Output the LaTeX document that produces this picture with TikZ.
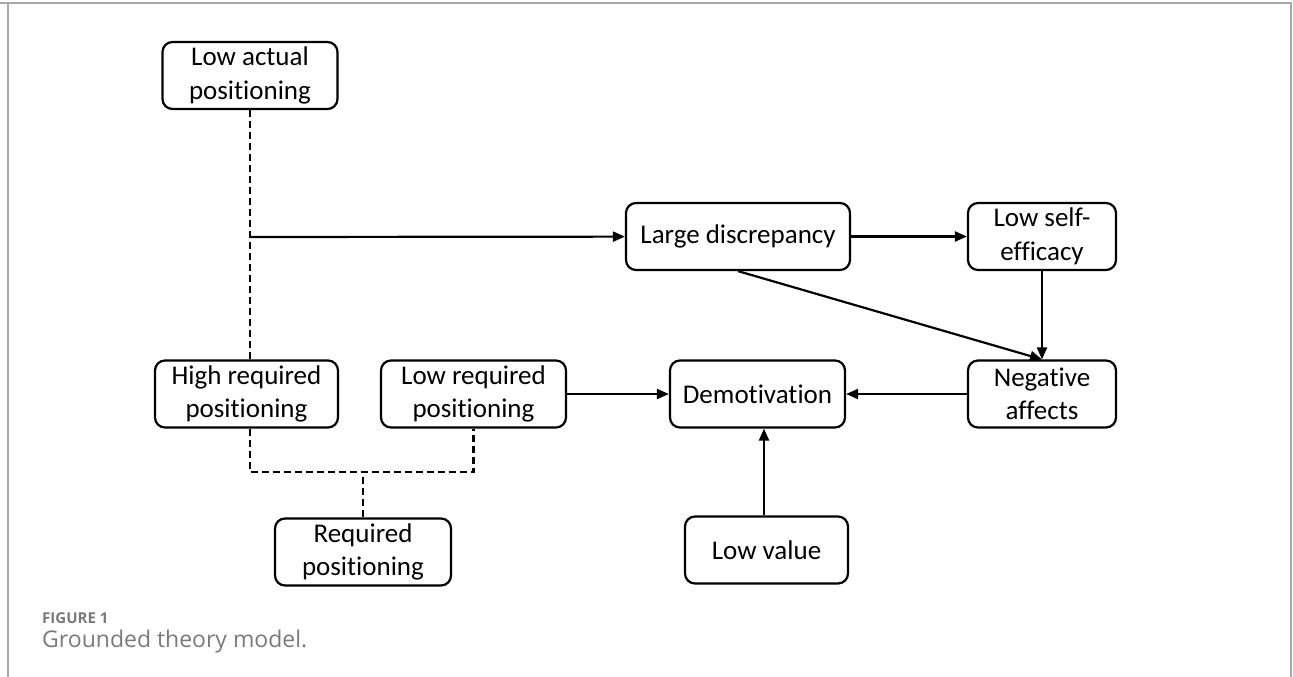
\documentclass[tikz,border=0pt]{standalone}
\usepackage{fontspec}
\usepackage{tikz}
\usetikzlibrary{arrows.meta}
\newfontfamily\boxfont[Ligatures=NoCommon]{Carlito}
\newfontfamily\captionfont{Open Sans}
\definecolor{framegray}{HTML}{A8A8A8}
\definecolor{captiongray}{HTML}{7A7A7A}

\begin{document}
\begin{tikzpicture}
 [ x=1pt, y=-1pt
 , concept/.style={draw, line width=2.2pt, rounded corners=10pt, align=center,
     inner sep=0pt, minimum height=67pt, font=\boxfont\fontsize{27}{33.5}\selectfont}
 , link/.style={line width=2.2pt, -{Triangle[length=12pt, width=10pt]}}
 , tie/.style={line width=2.2pt, dash pattern=on 7pt off 4pt}
 , frame/.style={draw=framegray, line width=1.4pt}
 ]
  \useasboundingbox (0,0) rectangle (1293,677);
  % frame of the figure
  \draw [frame] (8,677) -- (8,3) -- (1291,3) -- (1291,677);
  \draw [frame] (0,3) -- (8,3);

  \node [concept, minimum width=175pt] (actual) at (250,75.5) {Low actual\\positioning};
  \node [concept, minimum width=183pt] (high) at (246.5,394) {High required\\positioning};
  \node [concept, minimum width=185pt] (low) at (473.5,394) {Low required\\positioning};
  \node [concept, minimum width=176pt] (req) at (363,552) {Required\\positioning};
  \node [concept, minimum width=224pt] (disc) at (738,236.5) {Large discrepancy};
  \node [concept, minimum width=148pt] (selfeff) at (1042,236.5) {Low self-\\efficacy};
  \node [concept, minimum width=148pt] (neg) at (1042,394) {Negative\\affects};
  \node [concept, minimum width=175pt] (demot) at (757.5,394) {Demotivation};
  \node [concept, minimum width=163pt] (value) at (766.5,550) {Low value};

  \coordinate (junc) at (250,237);
  \coordinate (fork) at (363,472);

  % dashed ties
  \draw [tie] (actual) -- (high.north -| actual);
  \draw [tie] (high.south -| actual) |- (fork) -| (low.south);
  \draw [tie] (req) -- (fork);

  % arrows
  \draw [link] (junc) -- (disc);
  \draw [link] (disc) -- (selfeff);
  \draw [link] (disc.south) -- (neg.north);
  \draw [link] (selfeff) -- (neg);
  \draw [link] (neg) -- (demot);
  \draw [link] (low) -- (demot);
  \draw [link] (value.north -| 764,0) -- (demot.south -| 764,0);

  % caption
  \node [anchor=base west, inner sep=0pt, text=captiongray,
    font=\captionfont\bfseries\fontsize{15}{16}\selectfont] (fig) at (42,623) {FIGURE 1};
  \node [anchor=base west, inner sep=0pt, text=captiongray,
    font=\captionfont\fontsize{23}{26}\selectfont] (cap) at (42,647) {Grounded theory model.};
\end{tikzpicture}
\end{document}
